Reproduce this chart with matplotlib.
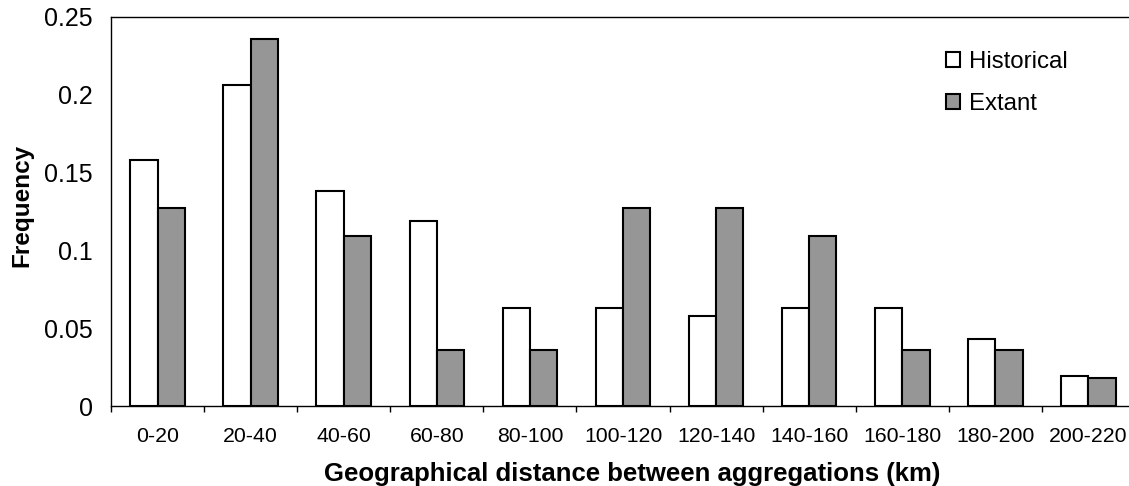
import matplotlib
matplotlib.use('Agg')
import matplotlib.pyplot as plt
import matplotlib.ticker as ticker
from matplotlib.patches import Patch
import numpy as np

plt.rcParams['font.family'] = ['Liberation Sans', 'DejaVu Sans']

categories = ['0-20', '20-40', '40-60', '60-80', '80-100', '100-120',
              '120-140', '140-160', '160-180', '180-200', '200-220']
historical = [0.158, 0.206, 0.138, 0.119, 0.063, 0.063, 0.058, 0.063, 0.063, 0.043, 0.019]
extant = [0.127, 0.236, 0.109, 0.036, 0.036, 0.127, 0.127, 0.109, 0.036, 0.036, 0.018]
y_ticks = [0, 0.05, 0.1, 0.15, 0.2, 0.25]
y_tick_labels = ['0', '0.05', '0.1', '0.15', '0.2', '0.25']

fig = plt.figure(figsize=(11.29, 4.86), dpi=100)
# axes runs a little past the right edge, as in the original crop
ax = fig.add_axes([111 / 1129, 80 / 486, 1024 / 1129, 389.3 / 486])

x = np.arange(len(categories))
bar_width = 0.293
ax.bar(x - bar_width / 2, historical, width=bar_width, color='white',
       edgecolor='black', linewidth=1.5, label='Historical')
ax.bar(x + bar_width / 2, extant, width=bar_width, color='#969696',
       edgecolor='black', linewidth=1.5, label='Extant')

ax.set_xlim(-0.5, len(categories) - 0.5)
ax.set_ylim(0, 0.25)

ax.set_yticks(y_ticks)
ax.set_yticklabels(y_tick_labels)
ax.tick_params(axis='y', length=0, pad=13, labelsize=18)

ax.set_xticks(x)
ax.set_xticklabels(categories)
ax.xaxis.set_minor_locator(ticker.FixedLocator(np.arange(len(categories) + 1) - 0.5))
ax.tick_params(axis='x', which='major', length=0, pad=15, labelsize=15.3)
ax.tick_params(axis='x', which='minor', length=4.3, width=1, direction='out')

for side in ['left', 'bottom', 'top', 'right']:
    ax.spines[side].set_linewidth(1)
    ax.spines[side].set_color('black')

ax.set_ylabel('Frequency', fontsize=17.5, fontweight='bold')
ax.yaxis.set_label_coords(-0.0762, 0.516)
ax.set_xlabel('Geographical distance between aggregations (km)', fontsize=18.5,
              fontweight='bold')
ax.xaxis.set_label_coords(0.509, -0.143)

handles = [Patch(facecolor='white', edgecolor='black', linewidth=1.5, label='Historical'),
           Patch(facecolor='#969696', edgecolor='black', linewidth=1.5, label='Extant')]
fig.legend(handles=handles, loc='upper left', bbox_to_anchor=(946 / 1129, 1 - 51 / 486),
           frameon=False, fontsize=17.3, handlelength=0.6, handleheight=0.6,
           handletextpad=0.35, labelspacing=0.82, borderaxespad=0, borderpad=0)

fig.savefig('out.png', dpi=100)
